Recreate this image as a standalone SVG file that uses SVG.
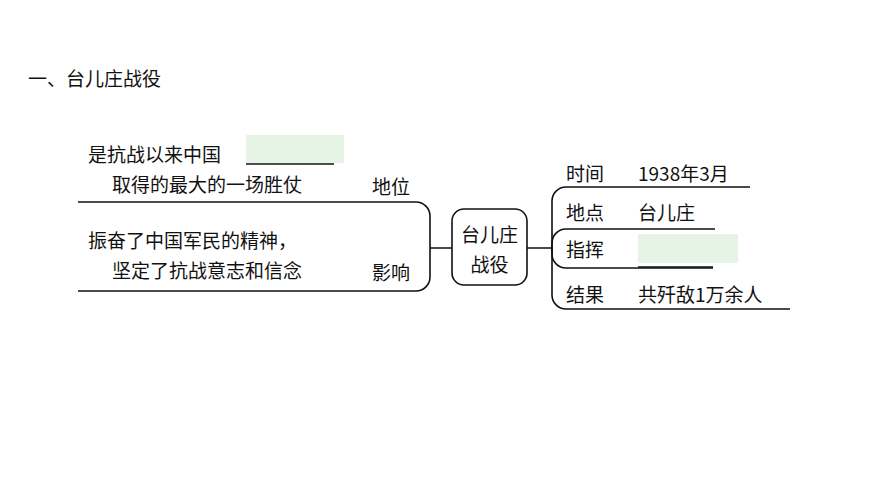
<svg xmlns="http://www.w3.org/2000/svg" width="870" height="488" viewBox="0 0 870 488">
<style>
text{font-family:"Noto Sans CJK SC","Liberation Serif",sans-serif;fill:#111;font-size:19px}
.l{fill:none;stroke:#111;stroke-width:1.6}
.g{fill:#e6f4e6}
</style>
<rect width="870" height="488" fill="#fff"/>
<text x="28" y="86" font-size="22">一、台儿庄战役</text>
<g id="connectors">
<path class="l" d="M78 202H416a14 14 0 0 1 14 14V277a14 14 0 0 1-14 14H78"/>
<path class="l" d="M430 248H452M527 248H552"/>
<path class="l" d="M750 187H566a14 14 0 0 0-14 14V295a14 14 0 0 0 14 14H790"/>
<path class="l" d="M715 229H566a14 14 0 0 0-14 14V254a14 14 0 0 0 14 14H713"/>
</g>
<g id="left">
<rect class="g" x="246" y="135" width="98" height="28"/>
<path class="l" d="M246 164H334"/>
<text x="88" y="162">是抗战以来中国</text>
<text x="112" y="192">取得的最大的一场胜仗</text>
<text x="372" y="194">地位</text>
<text x="88" y="248">振奋了中国军民的精神，</text>
<text x="112" y="278">坚定了抗战意志和信念</text>
<text x="372" y="280">影响</text>
</g>
<g id="center">
<rect x="452" y="209" width="75" height="76" rx="12" fill="#fff" stroke="#111" stroke-width="1.6"/>
<text x="489.5" y="242" text-anchor="middle" font-size="20">台儿庄</text>
<text x="489.5" y="272" text-anchor="middle" font-size="20">战役</text>
</g>
<g id="right">
<text x="566" y="181">时间</text><text x="638" y="181" font-family="Liberation Serif,Noto Sans CJK SC,serif">1938年3月</text>
<text x="566" y="220">地点</text><text x="638" y="220">台儿庄</text>
<text x="566" y="257">指挥</text>
<rect class="g" x="638" y="234" width="100" height="29"/>
<path class="l" d="M638 267H713"/>
<text x="566" y="302">结果</text><text x="638" y="302">共歼敌1万余人</text>
</g>
</svg>
